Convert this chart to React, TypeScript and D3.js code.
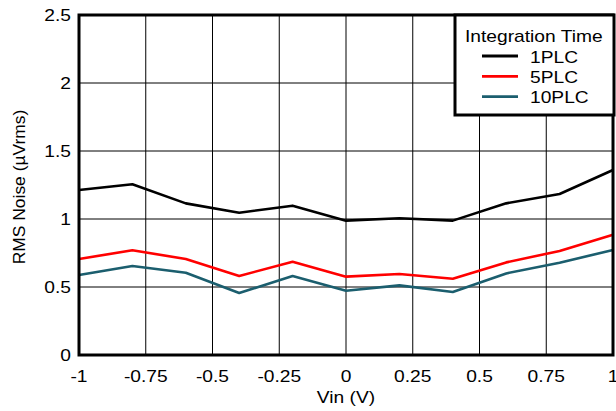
import React from "react";
import * as d3 from "d3";

const vin = [-1, -0.8, -0.6, -0.4, -0.2, 0, 0.2, 0.4, 0.6, 0.8, 1];
const plc1 = [1.213, 1.255, 1.115, 1.046, 1.098, 0.988, 1.005, 0.988, 1.115, 1.184, 1.36];
const plc5 = [0.706, 0.77, 0.706, 0.581, 0.686, 0.576, 0.596, 0.561, 0.681, 0.765, 0.885];
const plc10 = [0.588, 0.654, 0.605, 0.456, 0.581, 0.473, 0.512, 0.463, 0.6, 0.679, 0.772];
const xTicks = [-1, -0.75, -0.5, -0.25, 0, 0.25, 0.5, 0.75, 1];
const xTickLabels = ["-1", "-0.75", "-0.5", "-0.25", "0", "0.25", "0.5", "0.75", "1"];
const yTicks = [0, 0.5, 1, 1.5, 2, 2.5];
const yTickLabels = ["0", "0.5", "1", "1.5", "2", "2.5"];
const seriesNames = ["1PLC", "5PLC", "10PLC"];
const seriesColors = ["#000000", "#ff0000", "#1b5e6e"];
const legendTitle = "Integration Time";

const W = 616;
const H = 411;
const L = 79, R = 613, T = 15, B = 355;
const SX = 1.2;
const FONT = "Arial, 'Liberation Sans', Helvetica, sans-serif";

export default function App() {
  const x = d3.scaleLinear().domain([-1, 1]).range([L, R]);
  const y = d3.scaleLinear().domain([0, 2.5]).range([B, T]);
  const line = d3
    .line<number>()
    .x((_, i) => x(vin[i]))
    .y((d) => y(d));
  const series = [plc1, plc5, plc10];

  const legX0 = 455, legY0 = 15, legX1 = 614, legY1 = 115;

  return (
    <svg
      width={W}
      height={H}
      style={{ position: "absolute", left: 0, top: 0, background: "#fff" }}
      fontFamily={FONT}
    >
      <rect x={0} y={0} width={W} height={H} fill="#fff" />
      {/* grid */}
      {xTicks.slice(1, -1).map((t) => (
        <line key={"gx" + t} x1={x(t)} x2={x(t)} y1={T} y2={B} stroke="#000" strokeWidth={1} />
      ))}
      {yTicks.slice(1, -1).map((t) => (
        <line key={"gy" + t} x1={L} x2={R} y1={y(t)} y2={y(t)} stroke="#000" strokeWidth={1} />
      ))}
      {/* series */}
      {series.map((s, i) => (
        <path
          key={"s" + i}
          d={line(s) || ""}
          fill="none"
          stroke={seriesColors[i]}
          strokeWidth={2.6}
          strokeLinejoin="round"
        />
      ))}
      {/* frame */}
      <rect x={L} y={T} width={R - L} height={B - T} fill="none" stroke="#000" strokeWidth={3} />
      {/* legend */}
      <rect
        x={legX0}
        y={legY0}
        width={legX1 - legX0}
        height={legY1 - legY0}
        fill="#fff"
        stroke="#000"
        strokeWidth={3}
      />
      <text
        transform={`translate(465,42) scale(${SX},1)`}
        fontSize={16}
        fill="#000"
      >
        {legendTitle}
      </text>
      {seriesNames.map((n, i) => (
        <g key={"l" + n}>
          <line
            x1={482}
            x2={518}
            y1={56 + i * 20.3}
            y2={56 + i * 20.3}
            stroke={seriesColors[i]}
            strokeWidth={2.8}
          />
          <text
            transform={`translate(530,${62.5 + i * 20})  scale(${SX},1)`}
            fontSize={16}
            fill="#000"
          >
            {n}
          </text>
        </g>
      ))}
      {/* x tick labels */}
      {xTicks.map((t, i) => (
        <text
          key={"xt" + t}
          transform={`translate(${x(t)},382) scale(${SX},1)`}
          textAnchor="middle"
          fontSize={16}
          fill="#000"
        >
          {xTickLabels[i]}
        </text>
      ))}
      {/* y tick labels */}
      {yTicks.map((t, i) => (
        <text
          key={"yt" + t}
          transform={`translate(71,${y(t) + 6}) scale(${SX},1)`}
          textAnchor="end"
          fontSize={16}
          fill="#000"
        >
          {yTickLabels[i]}
        </text>
      ))}
      {/* axis titles */}
      <text
        transform={`translate(${(L + R) / 2},403) scale(${SX},1)`}
        textAnchor="middle"
        fontSize={16}
        fill="#000"
      >
        Vin (V)
      </text>
      <text
        transform={`translate(25,${(T + B) / 2 + 2}) rotate(-90) scale(1.09,1)`}
        textAnchor="middle"
        fontSize={16}
        fill="#000"
      >
        RMS Noise (µVrms)
      </text>
    </svg>
  );
}
